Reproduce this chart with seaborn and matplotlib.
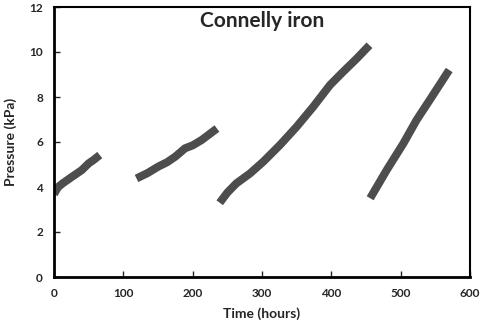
import matplotlib
matplotlib.use("Agg")
from matplotlib import pyplot as plt
import seaborn as sns

# four pressure build-up runs
t1 = [0, 3, 6, 12, 23, 40, 50, 57, 66]
p1 = [3.68, 3.85, 4.0, 4.15, 4.39, 4.75, 5.05, 5.2, 5.42]
t2 = [119, 135, 150, 163, 175, 189, 200, 213, 235]
p2 = [4.38, 4.62, 4.9, 5.1, 5.35, 5.72, 5.85, 6.09, 6.6]
t3 = [239, 250, 263, 283, 302, 326, 350, 374, 398, 417, 437, 455]
p3 = [3.3, 3.75, 4.16, 4.61, 5.13, 5.87, 6.68, 7.57, 8.53, 9.12, 9.72, 10.3]
t4 = [456, 480, 504, 523, 542, 570]
p4 = [3.5, 4.76, 5.94, 6.98, 7.87, 9.2]

sns.set_style("ticks")
plt.rcParams['font.family'] = ['Lato', 'DejaVu Sans']

fig, ax = plt.subplots(figsize=(4.8, 3.24), dpi=100)
fig.subplots_adjust(left=54/480, right=470/480, top=1-7/324, bottom=1-277/324)

for t, p in [(t1, p1), (t2, p2), (t3, p3), (t4, p4)]:
    sns.lineplot(x=t, y=p, ax=ax, color='#4d4d4d', linewidth=5.8,
                 sort=False, solid_capstyle='butt', solid_joinstyle='round')

ax.set_xlim(0, 600)
ax.set_ylim(0, 12)
ax.set_xticks(range(0, 700, 100))
ax.set_yticks(range(0, 14, 2))
ax.tick_params(direction='in', length=4, width=1, labelsize=8.5, pad=8)
for lab in ax.get_xticklabels() + ax.get_yticklabels():
    lab.set_fontweight('bold')
for s in ax.spines.values():
    s.set_visible(True)
    s.set_color('black')
    s.set_linewidth(1.5)
ax.spines['left'].set_linewidth(2)
ax.spines['bottom'].set_linewidth(2)

ax.set_xlabel('Time (hours)', fontsize=10, fontweight='bold', labelpad=6)
ax.set_ylabel('Pressure (kPa)', fontsize=10, fontweight='bold', labelpad=9)
ax.text(0.5, 0.985, 'Connelly iron', transform=ax.transAxes, ha='center', va='top',
        fontsize=15, fontweight='bold')

fig.savefig('out.png', dpi=100)
